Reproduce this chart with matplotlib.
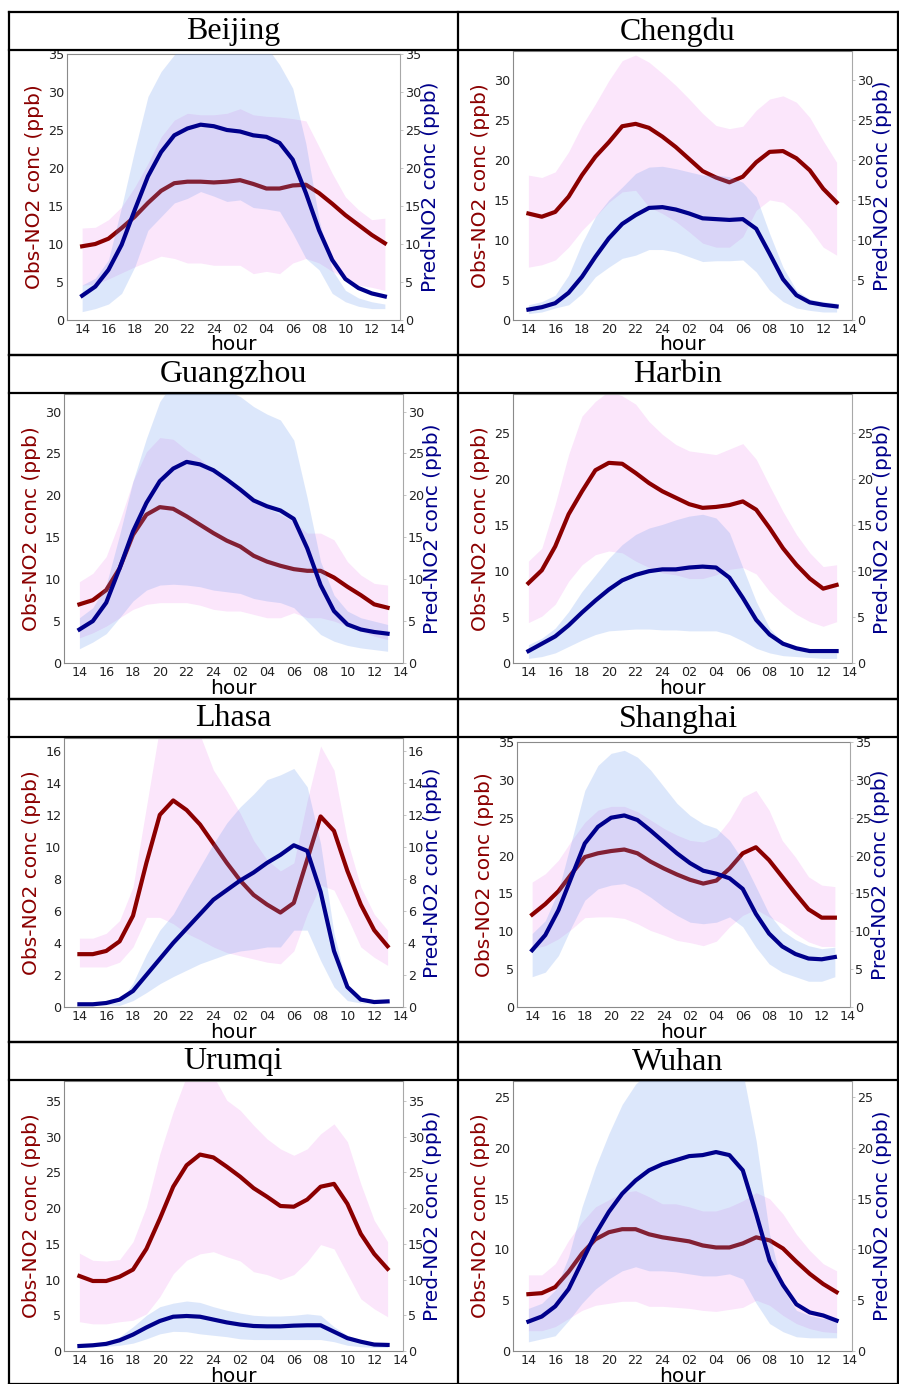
import matplotlib
matplotlib.use('Agg')
import matplotlib.pyplot as plt
from matplotlib.lines import Line2D
import numpy as np

# ---------------- data ----------------
hour_labels = ['14', '16', '18', '20', '22', '24', '02', '04', '06', '08', '10', '12', '14']
cities = ['Beijing', 'Chengdu', 'Guangzhou', 'Harbin', 'Lhasa', 'Shanghai', 'Urumqi', 'Wuhan']

beijing_obs = [9.7, 10.0, 10.7, 12.1, 13.6, 15.4, 17.0, 18.0, 18.2, 18.2, 18.1, 18.2, 18.4, 17.9, 17.3, 17.3, 17.7, 17.8, 16.7, 15.3, 13.8, 12.5, 11.2, 10.1]
beijing_obs_hi = [12.1, 12.2, 13.2, 14.9, 17.5, 20.6, 24.1, 26.3, 27.2, 27.0, 27.0, 27.2, 27.8, 27.0, 26.8, 26.7, 26.5, 26.2, 22.8, 19.3, 16.2, 14.5, 13.2, 13.4]
beijing_obs_lo = [4.6, 4.7, 5.4, 6.2, 7.0, 7.7, 8.4, 8.1, 7.5, 7.5, 7.2, 7.2, 7.2, 6.1, 6.4, 6.1, 7.5, 8.1, 7.5, 6.4, 5.5, 4.6, 4.3, 3.9]
beijing_pred = [3.2, 4.4, 6.6, 9.9, 14.5, 18.9, 22.1, 24.3, 25.2, 25.7, 25.5, 25.0, 24.8, 24.3, 24.1, 23.3, 21.1, 16.7, 11.8, 7.9, 5.4, 4.2, 3.5, 3.1]
beijing_pred_hi = [4.6, 5.5, 7.9, 14.9, 22.4, 29.4, 32.7, 34.9, 37.5, 38.5, 38.5, 38.0, 37.5, 37.0, 36.0, 33.6, 30.5, 23.2, 13.2, 6.6, 3.9, 2.9, 2.4, 2.1]
beijing_pred_lo = [1.1, 1.5, 2.1, 3.5, 7.0, 11.8, 13.6, 15.4, 16.0, 16.9, 16.3, 15.6, 15.8, 14.8, 14.6, 14.3, 11.4, 8.1, 6.6, 3.5, 2.4, 1.8, 1.5, 1.5]

chengdu_obs = [13.3, 12.9, 13.5, 15.4, 18.1, 20.4, 22.2, 24.2, 24.5, 24.0, 22.9, 21.6, 20.1, 18.6, 17.8, 17.2, 17.9, 19.7, 21.0, 21.1, 20.2, 18.7, 16.4, 14.7]
chengdu_obs_hi = [18.1, 17.8, 18.5, 21.0, 24.3, 27.0, 29.9, 32.4, 33.1, 32.2, 30.8, 29.3, 27.6, 25.8, 24.3, 23.9, 24.2, 26.2, 27.6, 28.0, 27.2, 25.3, 22.4, 19.7]
chengdu_obs_lo = [6.6, 6.9, 7.5, 9.1, 11.2, 12.9, 14.7, 16.0, 16.2, 14.1, 13.3, 12.3, 11.0, 9.6, 9.1, 9.1, 10.4, 13.7, 15.0, 14.7, 13.3, 11.4, 9.1, 8.1]
chengdu_pred = [1.3, 1.6, 2.1, 3.4, 5.4, 7.9, 10.2, 12.0, 13.1, 14.0, 14.1, 13.8, 13.3, 12.7, 12.6, 12.5, 12.6, 11.4, 8.3, 5.1, 3.1, 2.2, 1.9, 1.7]
chengdu_pred_hi = [1.9, 2.3, 3.1, 5.6, 9.6, 12.9, 15.0, 16.6, 18.3, 19.1, 19.2, 18.9, 18.5, 18.1, 18.1, 17.9, 17.2, 15.4, 10.8, 6.6, 3.7, 2.6, 2.3, 2.1]
chengdu_pred_lo = [0.8, 1.0, 1.5, 1.9, 3.3, 5.4, 6.6, 7.7, 8.1, 8.8, 8.8, 8.5, 7.9, 7.3, 7.4, 7.4, 7.5, 6.0, 3.7, 2.3, 1.5, 1.2, 1.0, 1.0]

guangzhou_obs = [7.0, 7.5, 8.7, 11.3, 15.3, 17.7, 18.6, 18.4, 17.5, 16.5, 15.5, 14.6, 13.9, 12.8, 12.1, 11.6, 11.2, 11.0, 11.0, 10.2, 9.1, 8.1, 7.0, 6.6]
guangzhou_obs_hi = [9.7, 10.7, 12.7, 16.9, 21.7, 25.2, 26.9, 26.7, 25.4, 24.4, 23.0, 21.9, 20.9, 19.7, 18.5, 17.7, 16.9, 15.5, 15.5, 14.7, 12.1, 10.5, 9.5, 9.3]
guangzhou_obs_lo = [3.0, 3.6, 4.4, 5.4, 6.4, 7.0, 7.2, 7.2, 7.2, 6.9, 6.4, 6.2, 6.2, 5.8, 5.4, 5.4, 6.0, 5.4, 5.4, 5.0, 4.4, 3.8, 3.2, 2.8]
guangzhou_pred = [4.0, 5.0, 7.2, 11.3, 15.7, 19.1, 21.7, 23.2, 24.0, 23.7, 23.0, 21.9, 20.7, 19.4, 18.7, 18.2, 17.2, 13.7, 9.3, 6.2, 4.6, 4.0, 3.7, 3.5]
guangzhou_pred_hi = [5.4, 6.6, 9.3, 15.3, 21.7, 26.8, 31.2, 33.5, 34.5, 34.5, 33.5, 32.5, 31.8, 30.6, 29.7, 29.0, 26.6, 19.7, 12.1, 8.1, 6.2, 5.4, 5.0, 4.6]
guangzhou_pred_lo = [1.7, 2.5, 3.5, 5.4, 7.4, 8.7, 9.3, 9.4, 9.3, 9.1, 8.7, 8.5, 8.3, 7.7, 7.4, 7.2, 6.6, 5.0, 3.4, 2.6, 2.1, 1.8, 1.6, 1.4]

harbin_obs = [8.7, 10.1, 12.7, 16.2, 18.7, 21.0, 21.8, 21.7, 20.7, 19.6, 18.7, 18.0, 17.3, 16.9, 17.0, 17.2, 17.6, 16.7, 14.7, 12.5, 10.7, 9.2, 8.1, 8.5]
harbin_obs_hi = [11.1, 12.5, 17.3, 22.7, 26.9, 28.5, 29.6, 29.1, 28.2, 26.3, 24.9, 23.8, 23.1, 22.9, 22.7, 23.3, 23.9, 22.2, 19.3, 16.5, 14.0, 12.0, 10.5, 10.7]
harbin_obs_lo = [4.4, 5.1, 6.4, 8.9, 10.7, 11.8, 12.2, 12.0, 11.1, 10.4, 9.8, 9.6, 9.2, 9.2, 9.6, 10.2, 10.4, 9.7, 7.8, 6.4, 5.3, 4.5, 4.0, 4.5]
harbin_pred = [1.3, 2.1, 2.9, 4.1, 5.5, 6.8, 8.0, 9.0, 9.6, 10.0, 10.2, 10.2, 10.4, 10.5, 10.4, 9.3, 7.1, 4.7, 3.1, 2.1, 1.6, 1.3, 1.3, 1.3]
harbin_pred_hi = [2.0, 2.7, 3.8, 5.6, 7.8, 9.6, 11.4, 12.9, 14.0, 14.7, 15.1, 15.6, 16.0, 16.2, 15.8, 14.2, 10.4, 6.7, 3.8, 2.2, 1.5, 1.1, 1.1, 1.1]
harbin_pred_lo = [0.5, 0.7, 1.1, 1.8, 2.5, 3.1, 3.5, 3.6, 3.7, 3.7, 3.6, 3.6, 3.5, 3.5, 3.5, 3.1, 2.4, 1.6, 1.1, 0.8, 0.7, 0.6, 0.5, 0.5]

lhasa_obs = [3.3, 3.3, 3.5, 4.1, 5.7, 9.0, 12.0, 12.9, 12.3, 11.4, 10.2, 9.0, 7.9, 7.0, 6.4, 5.9, 6.5, 9.2, 11.9, 11.0, 8.5, 6.4, 4.8, 3.8]
lhasa_obs_hi = [4.3, 4.3, 4.6, 5.4, 7.5, 12.5, 17.5, 18.5, 18.0, 17.0, 14.8, 13.5, 12.1, 10.4, 9.2, 8.5, 9.0, 12.9, 16.3, 14.8, 10.4, 7.5, 5.8, 4.8]
lhasa_obs_lo = [2.5, 2.5, 2.5, 2.8, 3.75, 5.6, 5.6, 5.2, 4.6, 4.2, 3.75, 3.4, 3.2, 3.0, 2.8, 2.7, 3.5, 5.8, 7.6, 7.3, 5.6, 3.75, 3.1, 2.6]
lhasa_pred = [0.17, 0.17, 0.25, 0.46, 1.0, 2.0, 3.0, 4.0, 4.9, 5.8, 6.7, 7.3, 7.9, 8.4, 9.0, 9.5, 10.1, 9.75, 7.2, 3.5, 1.25, 0.46, 0.31, 0.35]
lhasa_pred_hi = [0.15, 0.15, 0.2, 0.3, 1.5, 3.3, 4.8, 5.8, 7.3, 8.75, 10.2, 11.5, 12.5, 13.3, 14.2, 14.5, 14.9, 13.75, 10.2, 4.6, 1.25, 0.3, 0.2, 0.2]
lhasa_pred_lo = [0.15, 0.15, 0.15, 0.1, 0.4, 0.9, 1.45, 1.9, 2.3, 2.7, 3.0, 3.3, 3.5, 3.6, 3.75, 3.75, 4.8, 4.8, 2.9, 1.25, 0.4, 0.25, 0.2, 0.2]

shanghai_obs = [12.2, 13.6, 15.3, 17.6, 19.8, 20.3, 20.6, 20.8, 20.3, 19.2, 18.3, 17.5, 16.8, 16.3, 16.7, 18.3, 20.3, 21.1, 19.4, 17.2, 15.0, 12.9, 11.8, 11.8]
shanghai_obs_hi = [16.5, 17.6, 19.4, 22.0, 24.4, 26.0, 26.5, 26.5, 25.8, 24.7, 23.6, 22.7, 22.0, 21.8, 22.5, 24.7, 27.7, 28.6, 26.0, 22.0, 19.8, 17.2, 16.1, 15.9]
shanghai_obs_lo = [7.7, 8.1, 9.0, 10.3, 11.8, 11.9, 11.9, 11.7, 11.0, 10.1, 9.5, 8.8, 8.5, 8.1, 8.7, 10.6, 12.1, 12.9, 11.9, 11.0, 9.7, 8.6, 8.0, 8.0]
shanghai_pred = [7.5, 9.5, 12.8, 17.2, 21.6, 23.8, 25.0, 25.3, 24.7, 23.3, 21.8, 20.3, 19.0, 18.0, 17.6, 17.0, 15.6, 12.3, 9.7, 8.0, 7.0, 6.4, 6.3, 6.6]
shanghai_pred_hi = [9.7, 11.4, 15.4, 22.0, 28.6, 31.9, 33.5, 33.9, 33.0, 31.3, 29.1, 26.9, 25.3, 24.2, 23.6, 22.0, 19.4, 15.9, 12.3, 10.1, 8.9, 8.1, 7.7, 7.9]
shanghai_pred_lo = [4.0, 4.6, 6.8, 10.6, 14.1, 15.6, 16.1, 16.3, 15.6, 14.5, 13.2, 12.1, 11.2, 11.0, 11.2, 11.9, 10.6, 7.9, 5.7, 4.6, 4.0, 3.4, 3.4, 4.0]

urumqi_obs = [10.5, 9.8, 9.8, 10.4, 11.4, 14.3, 18.5, 23.0, 26.0, 27.5, 27.1, 25.8, 24.4, 22.8, 21.6, 20.3, 20.2, 21.2, 23.0, 23.4, 20.6, 16.4, 13.6, 11.5]
urumqi_obs_hi = [13.7, 12.7, 12.6, 12.8, 15.3, 20.2, 27.6, 33.5, 38.5, 39.5, 38.5, 35.1, 33.7, 31.6, 29.7, 28.3, 27.4, 28.3, 30.4, 31.8, 29.3, 23.4, 18.3, 15.3]
urumqi_obs_lo = [4.1, 3.8, 3.8, 4.1, 4.3, 5.2, 7.6, 10.8, 12.7, 13.6, 13.9, 13.2, 12.6, 11.1, 10.7, 10.0, 10.7, 12.5, 14.9, 14.3, 10.8, 7.3, 5.9, 4.8]
urumqi_pred = [0.7, 0.8, 1.0, 1.5, 2.3, 3.3, 4.2, 4.8, 4.9, 4.8, 4.4, 4.0, 3.7, 3.5, 3.45, 3.45, 3.55, 3.6, 3.6, 2.7, 1.8, 1.3, 0.9, 0.85]
urumqi_pred_hi = [0.9, 1.0, 1.3, 2.0, 3.4, 5.0, 6.2, 6.7, 7.0, 6.8, 6.2, 5.7, 5.3, 5.0, 4.9, 4.9, 5.0, 5.2, 5.0, 3.4, 2.2, 1.5, 1.1, 1.0]
urumqi_pred_lo = [0.5, 0.6, 0.65, 0.8, 1.1, 1.7, 2.4, 2.75, 2.7, 2.4, 2.2, 2.0, 1.7, 1.6, 1.6, 1.6, 1.6, 1.6, 1.6, 1.3, 0.8, 0.6, 0.5, 0.5]

wuhan_obs = [5.6, 5.7, 6.3, 7.8, 9.6, 11.0, 11.7, 12.0, 12.0, 11.5, 11.2, 11.0, 10.8, 10.4, 10.2, 10.2, 10.6, 11.2, 10.9, 10.1, 8.8, 7.6, 6.6, 5.8]
wuhan_obs_hi = [7.5, 7.5, 8.6, 10.9, 12.7, 14.2, 14.9, 15.6, 15.8, 15.2, 14.5, 14.5, 14.2, 13.8, 13.8, 14.2, 14.8, 15.6, 15.0, 13.5, 11.5, 9.9, 8.6, 7.9]
wuhan_obs_lo = [2.0, 2.0, 2.4, 3.2, 4.0, 4.5, 4.7, 4.9, 4.9, 4.4, 4.4, 4.3, 4.2, 4.0, 3.9, 4.1, 4.3, 5.0, 4.5, 3.5, 2.7, 2.2, 1.9, 1.8]
wuhan_pred = [2.9, 3.4, 4.4, 6.1, 8.8, 11.5, 13.7, 15.5, 16.8, 17.8, 18.4, 18.8, 19.2, 19.3, 19.6, 19.3, 17.8, 13.5, 8.9, 6.5, 4.6, 3.8, 3.5, 3.0]
wuhan_pred_hi = [4.2, 4.7, 6.0, 9.3, 14.2, 18.1, 21.4, 24.3, 26.3, 27.5, 28.5, 29.0, 29.5, 29.5, 29.5, 29.0, 27.5, 20.7, 11.5, 6.1, 4.0, 3.5, 3.2, 3.1]
wuhan_pred_lo = [0.9, 1.2, 1.5, 3.0, 4.7, 6.1, 7.1, 7.9, 8.3, 7.9, 7.9, 7.8, 7.6, 7.4, 7.4, 7.6, 7.1, 4.7, 2.7, 1.9, 1.4, 1.3, 1.3, 1.3]

series = {
    'Beijing': (beijing_obs, beijing_obs_lo, beijing_obs_hi, beijing_pred, beijing_pred_lo, beijing_pred_hi),
    'Chengdu': (chengdu_obs, chengdu_obs_lo, chengdu_obs_hi, chengdu_pred, chengdu_pred_lo, chengdu_pred_hi),
    'Guangzhou': (guangzhou_obs, guangzhou_obs_lo, guangzhou_obs_hi, guangzhou_pred, guangzhou_pred_lo, guangzhou_pred_hi),
    'Harbin': (harbin_obs, harbin_obs_lo, harbin_obs_hi, harbin_pred, harbin_pred_lo, harbin_pred_hi),
    'Lhasa': (lhasa_obs, lhasa_obs_lo, lhasa_obs_hi, lhasa_pred, lhasa_pred_lo, lhasa_pred_hi),
    'Shanghai': (shanghai_obs, shanghai_obs_lo, shanghai_obs_hi, shanghai_pred, shanghai_pred_lo, shanghai_pred_hi),
    'Urumqi': (urumqi_obs, urumqi_obs_lo, urumqi_obs_hi, urumqi_pred, urumqi_pred_lo, urumqi_pred_hi),
    'Wuhan': (wuhan_obs, wuhan_obs_lo, wuhan_obs_hi, wuhan_pred, wuhan_pred_lo, wuhan_pred_hi),
}

# y-axis upper limits per panel
ytop = {'Beijing': 35, 'Chengdu': 33.6, 'Guangzhou': 32.1, 'Harbin': 29.3,
        'Lhasa': 16.8, 'Shanghai': 35, 'Urumqi': 37.8, 'Wuhan': 26.6}

# ---------------- layout (pixels) ----------------
W, H = 899, 1384
col_x = [9, 458, 898]
row_y = [(12, 50, 355), (355, 393, 699), (699, 737, 1042), (1042, 1080, 1384)]
axes_px = {  # left, top, right, bottom
    'Beijing': (67, 54, 400, 320), 'Chengdu': (513, 51, 852, 320),
    'Guangzhou': (64, 394, 403, 663), 'Harbin': (513, 394, 852, 663),
    'Lhasa': (64, 738, 403, 1007), 'Shanghai': (517, 742, 850, 1007),
    'Urumqi': (64, 1081, 403, 1351), 'Wuhan': (513, 1081, 852, 1351),
}
ylab_px = {  # left label center x, right label center x
    'Beijing': (35, 430), 'Chengdu': (480, 882), 'Guangzhou': (32, 433), 'Harbin': (480, 882),
    'Lhasa': (32, 433), 'Shanghai': (485, 880), 'Urumqi': (32, 433), 'Wuhan': (480, 882),
}

fig = plt.figure(figsize=(W / 100, H / 100), dpi=100)
fig.patch.set_facecolor('white')

def fx(px):
    return px / W

def fy(py):
    return 1 - py / H

# table grid
lw_tab = 1.6
for (yt, ym, yb) in row_y:
    for yy in (yt, ym, yb):
        fig.add_artist(Line2D([fx(col_x[0]), fx(col_x[2])], [fy(yy), fy(yy)],
                              color='black', lw=lw_tab, transform=fig.transFigure))
for xx in col_x:
    fig.add_artist(Line2D([fx(xx), fx(xx)], [fy(row_y[0][0]), fy(H)],
                          color='black', lw=lw_tab, transform=fig.transFigure))

x = np.arange(24)
tick_pos = np.arange(0, 25, 2)
tfs = 9.2

for k, city in enumerate(cities):
    r, c = divmod(k, 2)
    yt, ym, yb = row_y[r]
    cx = (col_x[c] + col_x[c + 1]) / 2
    fig.text(fx(cx), fy((yt + ym) / 2 + 1), city, ha='center', va='center',
             fontsize=23, family='Liberation Serif', color='black')

    l, t, rr, b = axes_px[city]
    ax = fig.add_axes([fx(l), fy(b), (rr - l) / W, (b - t) / H])
    obs, olo, ohi, pred, plo, phi = series[city]

    ax.fill_between(x, olo, ohi, color='violet', alpha=0.2, lw=0)
    ax.plot(x, obs, color='darkred', lw=3)
    ax.set_xlim(-1.15, 24.15)
    ax.set_ylim(0, ytop[city])
    ax.set_xticks(tick_pos)
    ax.set_xticklabels(hour_labels)
    ax.tick_params(axis='x', length=0, pad=2.5, labelsize=tfs, labelcolor='#222222')
    ax.tick_params(axis='y', length=0, pad=2, labelsize=tfs, labelcolor='#222222')

    ax2 = ax.twinx()
    ax2.fill_between(x, plo, phi, color='cornflowerblue', alpha=0.22, lw=0)
    ax2.plot(x, pred, color='darkblue', lw=3)
    ax2.set_ylim(0, ytop[city])
    yt_ = ax.get_yticks()
    yt_ = yt_[(yt_ >= 0) & (yt_ <= ytop[city])]
    ax.set_yticks(yt_)
    ax2.set_yticks(yt_)
    ax2.tick_params(axis='y', length=2.5, width=0.6, color='#bbbbbb', pad=1,
                    labelsize=tfs, labelcolor='#222222')

    for sp in ('left', 'bottom', 'top'):
        ax.spines[sp].set_color('#8a8a8a')
        ax.spines[sp].set_linewidth(0.8)
    ax.spines['right'].set_visible(False)
    for sp in ('left', 'bottom', 'top'):
        ax2.spines[sp].set_visible(False)
    ax2.spines['right'].set_color('#a8a8a8')
    ax2.spines['right'].set_linewidth(0.8)

    axw = rr - l
    axh = b - t
    ax.set_ylabel('Obs-NO2 conc (ppb)', color='darkred', fontsize=14.5)
    ax.yaxis.label.set_verticalalignment('center')
    ax.yaxis.label.set_horizontalalignment('center')
    ax.yaxis.set_label_coords((ylab_px[city][0] - l) / axw, 0.5)
    ax2.set_ylabel('Pred-NO2 conc (ppb)', color='darkblue', fontsize=14.5)
    ax2.yaxis.label.set_verticalalignment('center')
    ax2.yaxis.label.set_horizontalalignment('center')
    ax2.yaxis.set_label_coords((ylab_px[city][1] - l) / axw, 0.5)

    ax.set_xlabel('hour', fontsize=14.5, color='black')
    ax.xaxis.label.set_verticalalignment('center')
    ax.xaxis.set_label_coords(0.5, -25.0 / axh)

fig.savefig('out.png', dpi=100, facecolor='white')
